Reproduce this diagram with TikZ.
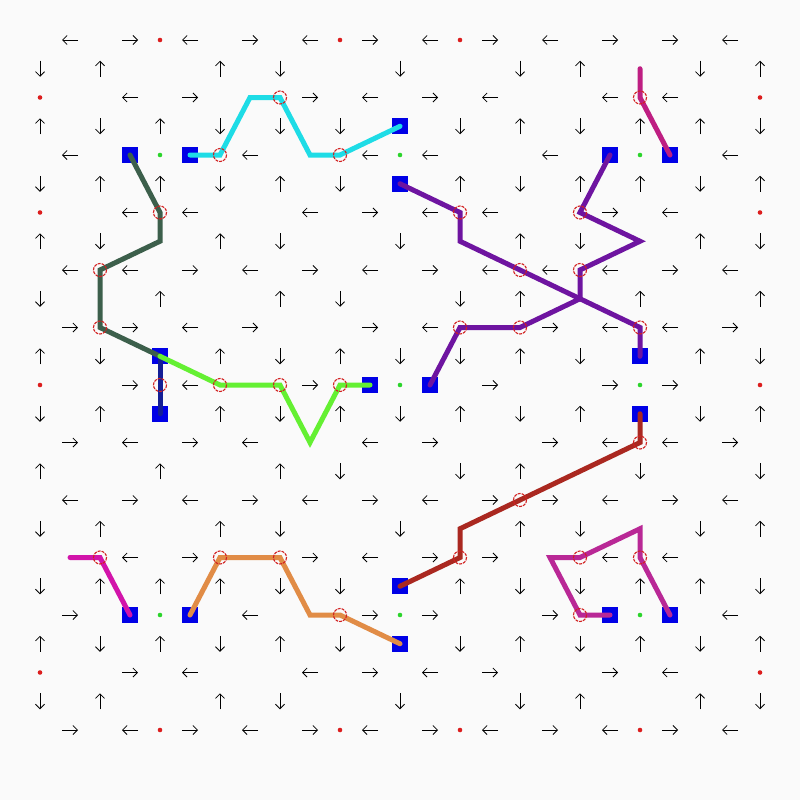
\documentclass[tikz,border=0pt]{standalone}
\usetikzlibrary{arrows.meta}
\definecolor{bg}{HTML}{FAFAFA}
\definecolor{sqblue}{HTML}{0000E6}
\definecolor{dotred}{HTML}{DC1E1E}
\definecolor{dotgreen}{HTML}{2CD42C}
\definecolor{ringred}{HTML}{D22020}
\definecolor{pcyan}{HTML}{1EDCE6}
\definecolor{pdkgreen}{HTML}{3C5F4B}
\definecolor{pltgreen}{HTML}{64F032}
\definecolor{pnavy}{HTML}{141E96}
\definecolor{ppurple}{HTML}{6E14A0}
\definecolor{pmagtop}{HTML}{BE1E82}
\definecolor{pbrown}{HTML}{AA2820}
\definecolor{pmagbl}{HTML}{D214AA}
\definecolor{porange}{HTML}{E18C46}
\definecolor{pmagbr}{HTML}{B92896}
\tikzset{
  arr/.style={draw=black, line width=0.8pt, -{Straight Barb[length=4.5pt,width=9pt]}},
  sq/.style={fill=sqblue, draw=none},
  reddot/.style={fill=dotred, draw=none},
  greendot/.style={fill=dotgreen, draw=none},
  ring/.style={draw=ringred, line width=1.1pt, dash pattern=on 3pt off 1pt},
  route/.style={line width=5pt, line cap=round, line join=miter},
}
\begin{document}
\begin{tikzpicture}[x=1pt,y=-1pt]
\fill[bg] (0,0) rectangle (800,800);
\useasboundingbox (0,0) rectangle (800,800);
\foreach \c in {0,...,24}{
  \foreach \r in {0,...,24}{
    \coordinate (g-\c-\r) at ({40+30*\c},{40+28.75*\r});
  }
}
% arrows
\foreach \c/\r/\a in {
 1/0/180, 3/0/0, 5/0/180, 7/0/0, 9/0/180, 11/0/0, 13/0/180, 15/0/0, 17/0/180, 19/0/0, 21/0/0, 23/0/180,
 0/1/270, 2/1/90, 6/1/90, 8/1/270, 12/1/270, 16/1/270, 18/1/90, 22/1/270, 24/1/90,
 3/2/180, 5/2/0, 9/2/0, 11/2/180, 13/2/0, 15/2/180, 19/2/180, 21/2/180,
 0/3/90, 2/3/270, 4/3/90, 6/3/270, 8/3/270, 10/3/270, 14/3/270, 16/3/90, 18/3/270, 20/3/90, 22/3/90, 24/3/270,
 1/4/180, 7/4/180, 11/4/180, 13/4/180, 17/4/180, 23/4/180,
 0/5/270, 2/5/90, 4/5/90, 6/5/270, 8/5/90, 10/5/270, 14/5/90, 16/5/270, 18/5/90, 20/5/90, 22/5/270, 24/5/90,
 3/6/180, 5/6/180, 9/6/180, 11/6/0, 13/6/180, 15/6/180, 19/6/0, 21/6/180,
 0/7/90, 2/7/270, 6/7/90, 8/7/270, 12/7/270, 16/7/90, 18/7/270, 22/7/90, 24/7/270,
 1/8/180, 3/8/180, 5/8/0, 7/8/180, 9/8/0, 11/8/180, 13/8/0, 15/8/180, 17/8/180, 19/8/180, 21/8/0, 23/8/180,
 0/9/270, 4/9/90, 8/9/90, 10/9/270, 14/9/270, 16/9/90, 20/9/90, 24/9/90,
 1/10/0, 3/10/0, 5/10/180, 7/10/0, 11/10/0, 13/10/180, 17/10/0, 19/10/180, 21/10/180, 23/10/0,
 0/11/90, 2/11/270, 6/11/90, 8/11/270, 10/11/90, 12/11/270, 14/11/270, 16/11/90, 18/11/270, 22/11/90, 24/11/270,
 3/12/0, 5/12/180, 9/12/0, 15/12/0, 19/12/0, 21/12/0,
 0/13/270, 2/13/90, 6/13/90, 8/13/270, 10/13/90, 12/13/270, 14/13/90, 16/13/270, 18/13/90, 22/13/270, 24/13/90,
 1/14/0, 3/14/180, 5/14/0, 7/14/180, 11/14/180, 13/14/0, 17/14/0, 19/14/180, 21/14/180, 23/14/0,
 0/15/90, 4/15/90, 8/15/90, 10/15/270, 14/15/270, 16/15/90, 20/15/270, 24/15/270,
 1/16/180, 3/16/0, 5/16/180, 7/16/0, 9/16/180, 11/16/0, 13/16/180, 15/16/0, 17/16/0, 19/16/180, 21/16/0, 23/16/180,
 0/17/270, 2/17/90, 6/17/90, 8/17/270, 12/17/270, 16/17/90, 18/17/270, 22/17/270, 24/17/90,
 3/18/180, 5/18/0, 9/18/0, 11/18/180, 13/18/0, 15/18/0, 19/18/180, 21/18/180,
 0/19/270, 2/19/90, 4/19/90, 6/19/90, 8/19/270, 10/19/270, 14/19/90, 16/19/270, 18/19/270, 20/19/90, 22/19/90, 24/19/270,
 1/20/0, 7/20/180, 11/20/0, 13/20/0, 17/20/0, 23/20/180,
 0/21/90, 2/21/270, 4/21/90, 6/21/270, 8/21/90, 10/21/270, 14/21/270, 16/21/90, 18/21/270, 20/21/90, 22/21/270, 24/21/90,
 3/22/0, 5/22/180, 9/22/180, 11/22/0, 13/22/180, 15/22/0, 19/22/0, 21/22/180,
 0/23/270, 2/23/90, 6/23/90, 8/23/270, 12/23/270, 16/23/270, 18/23/90, 22/23/90, 24/23/270,
 1/24/0, 3/24/180, 5/24/0, 7/24/180, 9/24/0, 11/24/180, 13/24/0, 15/24/180, 17/24/0, 19/24/180, 21/24/0, 23/24/180}{
  \draw[arr, shift={(g-\c-\r)}, rotate=\a] (-8,0) -- (8,0);
}
% red dots
\foreach \c/\r in {4/0,10/0,14/0,0/2,24/2,0/6,24/6,0/12,24/12,0/22,24/22,4/24,10/24,14/24,20/24}{
  \fill[reddot] (g-\c-\r) circle[radius=2.3];
}
% green dots
\foreach \c/\r in {4/4,12/4,20/4,12/12,20/12,4/20,12/20,20/20}{
  \fill[greendot] (g-\c-\r) circle[radius=2.3];
}
% blue squares
\foreach \c/\r in {3/4,5/4,12/3,12/5,19/4,21/4,4/11,4/13,11/12,13/12,20/11,20/13,3/20,5/20,12/19,12/21,19/20,21/20}{
  \fill[sq, shift={(g-\c-\r)}] (-8,-8) rectangle (8,8);
}
% routes
\draw[route, pcyan] (g-5-4) -- (g-6-4) -- (g-7-2) -- (g-8-2) -- (g-9-4) -- (g-10-4) -- (g-12-3);
\draw[route, pdkgreen] (g-3-4) -- (g-4-6) -- (g-4-7) -- (g-2-8) -- (g-2-10) -- (g-4-11);
\draw[route, pnavy] (g-4-11) -- (g-4-13);
\draw[route, pltgreen] (g-4-11) -- (g-6-12) -- (g-8-12) -- (g-9-14) -- (g-10-12) -- (g-11-12);
\draw[route, ppurple] (g-12-5) -- (g-14-6) -- (g-14-7) -- (g-16-8) -- (g-18-9) -- (g-20-10) -- (g-20-11);
\draw[route, ppurple] (g-19-4) -- (g-18-6) -- (g-20-7) -- (g-18-8) -- (g-18-9) -- (g-16-10) -- (g-14-10) -- (g-13-12);
\draw[route, pmagtop] (g-20-1) -- (g-20-2) -- (g-21-4);
\draw[route, pbrown] (g-20-13) -- (g-20-14) -- (g-16-16) -- (g-14-17) -- (g-14-18) -- (g-12-19);
\draw[route, pmagbl] (g-1-18) -- (g-2-18) -- (g-3-20);
\draw[route, porange] (g-5-20) -- (g-6-18) -- (g-8-18) -- (g-9-20) -- (g-10-20) -- (g-12-21);
\draw[route, pmagbr] (g-19-20) -- (g-18-20) -- (g-17-18) -- (g-18-18) -- (g-20-17) -- (g-20-18) -- (g-21-20);
% rings
\foreach \c/\r in {8/2,20/2,6/4,10/4,4/6,14/6,18/6,2/8,16/8,18/8,2/10,14/10,16/10,20/10,4/12,6/12,8/12,10/12,20/14,16/16,2/18,6/18,8/18,14/18,18/18,20/18,10/20,18/20}{
  \draw[ring] (g-\c-\r) circle[radius=6.5];
}
\end{tikzpicture}
\end{document}
